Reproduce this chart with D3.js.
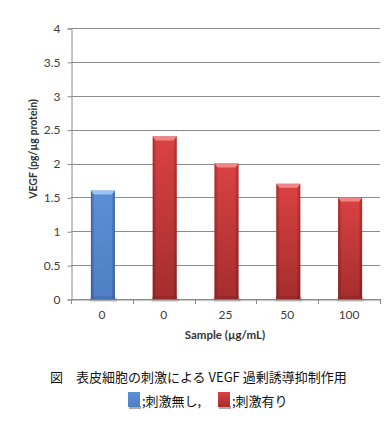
<!DOCTYPE html>
<html>
<head>
<meta charset="utf-8">
<script src="https://cdn.jsdelivr.net/npm/d3@7"></script>
<style>
  body { margin: 0; background: #fff; }
  text { font-family: Lato, "Open Sans", sans-serif; }
  .cjk { font-family: "Noto Sans CJK JP", sans-serif; }
</style>
</head>
<body>
<script>
// chart data
const categories = ["0", "0", "25", "50", "100"];
const values = [1.6, 2.4, 2.0, 1.7, 1.5];
const groups = ["none", "stim", "stim", "stim", "stim"];
const yTicks = [0, 0.5, 1, 1.5, 2, 2.5, 3, 3.5, 4];

const width = 390, height = 422;
const plotLeft = 71, plotRight = 380, plotTop = 28, plotBottom = 299;

const svg = d3.select("body")
    .append("svg")
    .attr("width", width)
    .attr("height", height);

const defs = svg.append("defs");

// gradients for the bevelled bars
function addGrad(id, stops, horizontal) {
    const g = defs.append("linearGradient")
        .attr("id", id)
        .attr("x1", 0).attr("y1", 0)
        .attr("x2", horizontal ? 1 : 0).attr("y2", horizontal ? 0 : 1);
    stops.forEach(s => g.append("stop").attr("offset", s[0]).attr("stop-color", s[1]));
}
addGrad("redBody", [[0, "#da4242"], [1, "#a52d2d"]], false);
addGrad("blueBody", [[0, "#5b8fd6"], [1, "#4f7fc4"]], false);
addGrad("redSide", [[0, "rgba(90,0,0,0.35)"], [0.15, "rgba(0,0,0,0)"], [0.85, "rgba(0,0,0,0)"], [1, "rgba(90,0,0,0.35)"]], true);
addGrad("blueSide", [[0, "rgba(0,30,90,0.35)"], [0.15, "rgba(0,0,0,0)"], [0.85, "rgba(0,0,0,0)"], [1, "rgba(0,30,90,0.35)"]], true);

const colors = {
    none: { body: "url(#blueBody)", side: "url(#blueSide)", cap: "#9cc3f0", dark: "#3e6aa8" },
    stim: { body: "url(#redBody)", side: "url(#redSide)", cap: "#f08585", dark: "#8a2424" }
};

const x = d3.scaleBand()
    .domain(d3.range(categories.length))
    .range([plotLeft, plotRight]);

const y = d3.scaleLinear()
    .domain([0, 4])
    .range([plotBottom, plotTop]);

// grid lines
svg.append("g")
    .selectAll("line")
    .data(yTicks)
    .join("line")
    .attr("x1", plotLeft).attr("x2", plotRight)
    .attr("y1", d => Math.round(y(d)) + 0.5).attr("y2", d => Math.round(y(d)) + 0.5)
    .attr("stroke", "#8c8c8c")
    .attr("stroke-width", 1);

// y axis
const yAxis = svg.append("g")
    .attr("transform", "translate(" + (plotLeft + 0.5) + ",0.5)")
    .call(d3.axisLeft(y).tickValues(yTicks).tickSize(4).tickPadding(7).tickFormat(d3.format("")));
yAxis.select(".domain").attr("stroke", "#8c8c8c");
yAxis.selectAll(".tick line").attr("stroke", "#8c8c8c");
yAxis.selectAll("text").style("font-size", "12px").attr("fill", "#404040");

// x axis
const xAxis = svg.append("g")
    .attr("transform", "translate(0," + (plotBottom + 0.5) + ")")
    .call(d3.axisBottom(x).tickSize(0).tickPadding(11).tickFormat(i => categories[i]));
xAxis.select(".domain").attr("stroke", "#8c8c8c");
xAxis.selectAll("text").style("font-size", "12px").attr("fill", "#404040");

// ticks between categories
svg.append("g")
    .selectAll("line")
    .data(d3.range(categories.length + 1))
    .join("line")
    .attr("x1", i => Math.round(plotLeft + i * x.step()) + 0.5)
    .attr("x2", i => Math.round(plotLeft + i * x.step()) + 0.5)
    .attr("y1", plotBottom).attr("y2", plotBottom + 5)
    .attr("stroke", "#8c8c8c");

// bars
const barW = 24;
const bars = svg.append("g")
    .selectAll("g")
    .data(values)
    .join("g")
    .attr("transform", (d, i) => "translate(" + (x(i) + x.bandwidth() / 2 - barW / 2 + 1) + ",0)");

// soft shadow under each bar
bars.append("rect")
    .attr("x", -1).attr("width", barW + 3)
    .attr("y", plotBottom - 2).attr("height", 5)
    .attr("fill", "rgba(0,0,0,0.12)");

bars.append("rect")
    .attr("width", barW)
    .attr("y", d => y(d))
    .attr("height", d => plotBottom - y(d))
    .attr("fill", (d, i) => colors[groups[i]].body);

bars.append("rect")
    .attr("width", barW)
    .attr("y", d => y(d))
    .attr("height", d => plotBottom - y(d))
    .attr("fill", (d, i) => colors[groups[i]].side);

// bevelled top cap
bars.append("path")
    .attr("d", d => "M0," + y(d) + "H" + barW + "L" + (barW - 3) + "," + (y(d) + 4) + "H3Z")
    .attr("fill", (d, i) => colors[groups[i]].cap);

bars.append("rect")
    .attr("width", barW)
    .attr("y", plotBottom - 3)
    .attr("height", 3)
    .attr("fill", (d, i) => colors[groups[i]].dark)
    .attr("opacity", 0.5);

// axis titles
svg.append("text")
    .attr("x", 225)
    .attr("y", 339)
    .attr("text-anchor", "middle")
    .style("font-size", "11.5px")
    .style("font-weight", "bold")
    .attr("fill", "#333")
    .text("Sample (µg/mL)");

svg.append("text")
    .attr("transform", "translate(37,149) rotate(-90)")
    .attr("text-anchor", "middle")
    .style("font-size", "10.5px")
    .style("font-weight", "bold")
    .attr("fill", "#333")
    .text("VEGF (pg/µg protein)");

// caption
svg.append("text")
    .attr("class", "cjk")
    .attr("x", 50)
    .attr("y", 382)
    .style("font-size", "13px")
    .attr("fill", "#111")
    .text("図　表皮細胞の刺激による VEGF 過剰誘導抑制作用");

// legend
const legendItems = [
    { x: 128, fill: colors.none.body, label: ";刺激無し," },
    { x: 218, fill: colors.stim.body, label: ";刺激有り" }
];
const legend = svg.append("g")
    .selectAll("g")
    .data(legendItems)
    .join("g")
    .attr("transform", d => "translate(" + d.x + ",392)");
legend.append("rect")
    .attr("x", 1).attr("y", 14).attr("width", 12).attr("height", 3)
    .attr("fill", "#aaa");
legend.append("rect")
    .attr("width", 12).attr("height", 15)
    .attr("fill", d => d.fill);
legend.append("text")
    .attr("class", "cjk")
    .attr("x", 14)
    .attr("y", 14)
    .style("font-size", "13px")
    .attr("fill", "#111")
    .text(d => d.label);
</script>
</body>
</html>
